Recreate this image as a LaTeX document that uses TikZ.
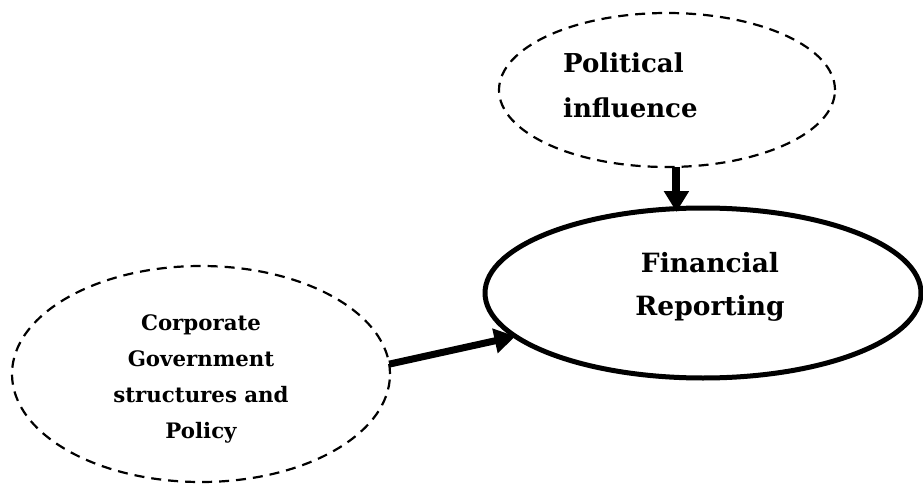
\documentclass[tikz,border=0pt]{standalone}
\usepackage{fontspec}
\setmainfont{DejaVu Serif}
\usetikzlibrary{shapes.geometric,arrows.meta}
\begin{document}
\begin{tikzpicture}[x=1pt,y=-1pt,
  dashedell/.style={ellipse,draw,line width=2.2pt,dash pattern=on 10pt off 7pt,inner sep=0pt,outer sep=0pt},
  solidell/.style={ellipse,draw,line width=5pt,inner sep=0pt,outer sep=0pt},
  lbl/.style={inner sep=0pt,font=\bfseries},
  bigarrow/.style={line width=8pt,-{Triangle[length=21pt,width=24pt]}}]
\useasboundingbox (0,0) rectangle (923,484);
\node[dashedell,minimum width=336pt,minimum height=154pt] (pol) at (667,90) {};
\node[solidell,minimum width=436pt,minimum height=170pt] (fin) at (703,293) {};
\node[dashedell,minimum width=378pt,minimum height=216pt] (corp) at (201,374) {};
\node[lbl,align=left,anchor=west,font=\bfseries\fontsize{26}{45}\selectfont] (poltext) at (563,85) {Political\\influence};
\node[lbl,align=center,font=\bfseries\fontsize{26.5}{43}\selectfont] (fintext) at (710,287) {Financial\\Reporting};
\node[lbl,align=center,font=\bfseries\fontsize{21.3}{36}\selectfont] (corptext) at (201,379) {Corporate\\Government\\structures and\\Policy};
\draw[bigarrow,shorten >=-4pt] (pol.-83) -- (pol.-83 |- fin.north);
\draw[bigarrow,line width=7pt] (corp.3) -- (fin.193);
\end{tikzpicture}
\end{document}
